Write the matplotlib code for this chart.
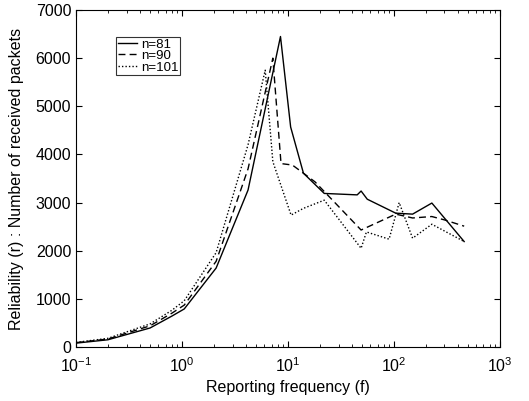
import matplotlib
matplotlib.use('Agg')
import matplotlib.pyplot as plt
import numpy as np

plt.rcParams['font.family'] = ['Liberation Sans', 'DejaVu Sans']
plt.rcParams['mathtext.fontset'] = 'custom'
plt.rcParams['mathtext.rm'] = 'Liberation Sans'

# n = 81
f81 = [0.1, 0.2, 0.5, 0.8, 1.05, 2.1, 4.2, 8.5, 10.6, 14, 22, 45, 49, 56, 104, 150, 228, 460]
r81 = [80, 150, 395, 640, 790, 1640, 3260, 6450, 4570, 3610, 3190, 3160, 3240, 3070, 2780, 2760, 2990, 2190]

# n = 90
f90 = [0.1, 0.2, 0.5, 0.8, 1.05, 2.1, 4.2, 7.2, 8.6, 11, 14, 18, 49, 104, 150, 228, 300, 460]
r90 = [90, 165, 440, 700, 870, 1780, 3700, 6000, 3810, 3780, 3610, 3430, 2430, 2760, 2680, 2710, 2640, 2510]

# n = 101
f101 = [0.1, 0.2, 0.5, 0.8, 1.05, 2.1, 4.2, 6.1, 7.2, 10.7, 14, 22, 49, 55, 90, 112, 150, 228, 460]
r101 = [95, 180, 480, 760, 960, 1960, 4200, 5750, 3850, 2740, 2880, 3050, 2050, 2390, 2240, 3000, 2260, 2550, 2190]

fig = plt.figure(figsize=(5.29, 4.01), dpi=100)
ax = fig.add_axes([0.1437, 0.1347, 0.8013, 0.8403])

ax.semilogx(f81, r81, 'k-', lw=1.0, label='n=81')
ax.semilogx(f90, r90, 'k--', lw=1.0, dashes=(5, 3), label='n=90')
ax.semilogx(f101, r101, 'k:', lw=1.0, dashes=(1, 1.5), label='n=101')

ax.set_xlim(0.1, 1000)
ax.set_ylim(0, 7000)
ax.set_yticks(np.arange(0, 7001, 1000))
ax.tick_params(which='both', direction='in', top=True, right=True, labelsize=11.5)
ax.tick_params(which='major', length=4)
ax.tick_params(which='minor', length=2)
ax.tick_params(axis='x', pad=7)
ax.set_xlabel('Reporting frequency (f)', fontsize=11.5, labelpad=3)
ax.set_ylabel('Reliability (r) : Number of received packets', fontsize=11.5, labelpad=8)

leg = ax.legend(loc='upper left', bbox_to_anchor=(0.095, 0.92), fontsize=9.5,
                frameon=True, fancybox=False, edgecolor='black', handlelength=1.5,
                handletextpad=0.3, borderpad=0.1, labelspacing=-0.05, borderaxespad=0)
leg.get_frame().set_linewidth(0.8)

fig.savefig('out.png', dpi=100)
